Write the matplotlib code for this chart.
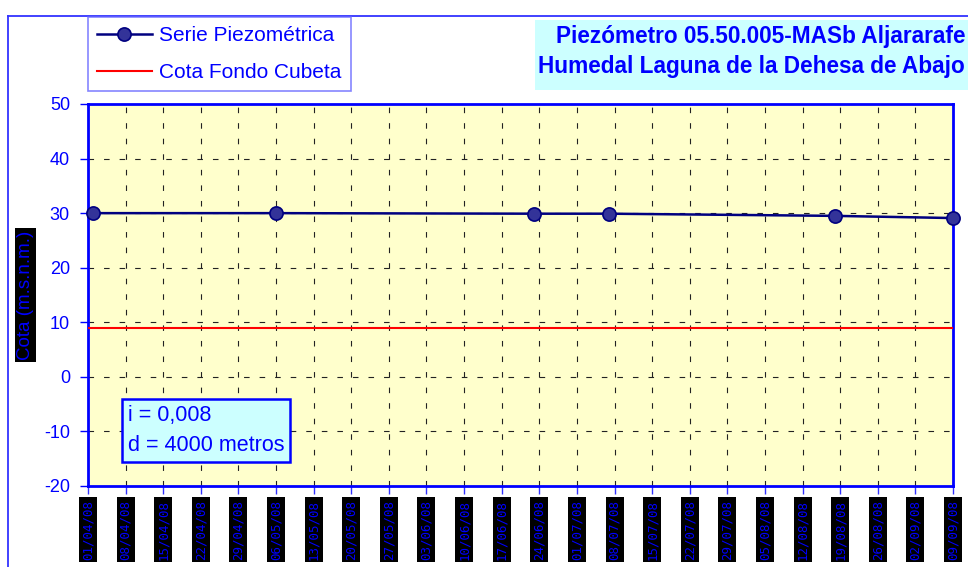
import datetime as dt
import matplotlib
matplotlib.use("Agg")
import matplotlib.pyplot as plt
import matplotlib.dates as mdates
from matplotlib.patches import Rectangle
from matplotlib.lines import Line2D

plt.rcParams['font.family'] = ['Liberation Sans', 'DejaVu Sans']
plt.rcParams['axes.unicode_minus'] = False

# piezometric readings (m.s.n.m.)
fechas = [dt.date(2008, 4, 2), dt.date(2008, 5, 6), dt.date(2008, 6, 23),
          dt.date(2008, 7, 7), dt.date(2008, 8, 18), dt.date(2008, 9, 9)]
cotas = [30.0, 30.0, 29.9, 29.9, 29.5, 29.1]
cota_fondo = 8.9

x_ini = dt.date(2008, 4, 1)
x_fin = dt.date(2008, 9, 9)
y_ticks = [-20, -10, 0, 10, 20, 30, 40, 50]

AZUL = '#0000ff'
MARINO = '#000080'

fig = plt.figure(figsize=(9.68, 5.67), dpi=100)
fig.patch.set_facecolor('white')

# outer chart frame
fig.add_artist(Line2D([8 / 968, 8 / 968], [0, 1 - 16 / 567], transform=fig.transFigure,
                      color='#3333ff', lw=1.3))
fig.add_artist(Line2D([8 / 968, 1], [1 - 16 / 567, 1 - 16 / 567], transform=fig.transFigure,
                      color='#3333ff', lw=1.3))

ax = fig.add_axes([88 / 968, 81 / 567, 865 / 968, 382 / 567])
ax.set_facecolor('#ffffcc')

ax.plot(fechas, cotas, color=MARINO, lw=1.8, marker='o', markersize=9.5,
        markerfacecolor='#333399', markeredgecolor=MARINO, markeredgewidth=1.2,
        label='Serie Piezométrica', zorder=4, clip_on=False)
ax.axhline(cota_fondo, color='#ff0000', lw=1.5, label='Cota Fondo Cubeta', zorder=3)

ax.set_xlim(x_ini, x_fin)
ax.set_ylim(-20, 50)
ax.set_yticks(y_ticks)
semanas = mdates.drange(x_ini, x_fin + dt.timedelta(days=1), dt.timedelta(days=7))
ax.set_xticks(semanas)
ax.xaxis.set_major_formatter(mdates.DateFormatter('%d/%m/%y'))

ax.grid(True, color='#222222', linestyle=(0, (5, 9)), lw=0.8)
ax.set_axisbelow(True)
for s in ax.spines.values():
    s.set_color(AZUL)
    s.set_linewidth(2)

ax.tick_params(axis='y', colors=AZUL, labelsize=13, direction='out', length=6, width=1, pad=7)
ax.tick_params(axis='x', colors='#3333ff', direction='out', length=6, width=1, pad=4)
for lab in ax.get_xticklabels():
    lab.set_rotation(90)
    lab.set_va('top')
    lab.set_ha('center')
    lab.set_family('DejaVu Sans Mono')
    lab.set_fontsize(9)
    lab.set_color(AZUL)
    lab.set_bbox(dict(facecolor='black', edgecolor='none', pad=1.8))

ax.set_ylabel('Cota (m.s.n.m.)', color=AZUL, fontsize=13.5,
              bbox=dict(facecolor='black', edgecolor='none', pad=1.5))
ax.yaxis.set_label_coords(-0.062, 0.5)

# gradient / distance note
ax.text(0.046, 0.078, 'i = 0,008\nd = 4000 metros', transform=ax.transAxes,
        fontsize=15.5, color=AZUL, linespacing=1.6, va='bottom', ha='left',
        bbox=dict(facecolor='#ccffff', edgecolor=AZUL, lw=1.8, pad=4), zorder=6)

# title block
fig.add_artist(Rectangle((535 / 968, 1 - 90 / 567), 433 / 968, 70 / 567,
                         transform=fig.transFigure, facecolor='#ccffff', edgecolor='none'))
fig.text(0.997, 1 - 36 / 567, 'Piezómetro 05.50.005-MASb Aljararafe', ha='right', va='center',
         fontsize=16.3, fontweight='bold', color=AZUL)
fig.text(0.997, 1 - 66 / 567, 'Humedal Laguna de la Dehesa de Abajo', ha='right', va='center',
         fontsize=16.3, fontweight='bold', color=AZUL)

leg = fig.legend(loc='upper left', bbox_to_anchor=(88 / 968, 1 - 17 / 567),
                 fontsize=15, frameon=True, fancybox=False, borderpad=0.45,
                 labelspacing=0.85, handlelength=2.6, handletextpad=0.35,
                 borderaxespad=0)
leg.get_frame().set_edgecolor('#6666ff')
leg.get_frame().set_linewidth(1.2)
for t in leg.get_texts():
    t.set_color(AZUL)

fig.savefig('out.png', dpi=100)
